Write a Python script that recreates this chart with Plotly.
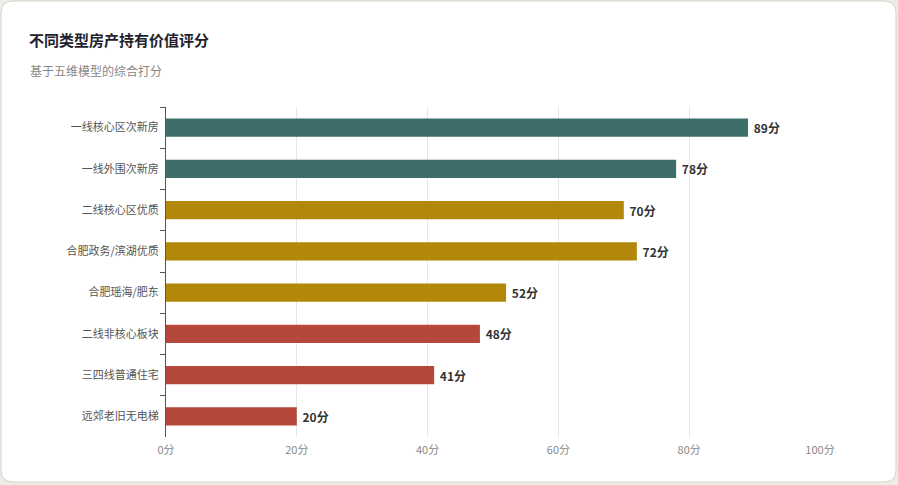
import plotly.graph_objects as go

categories = ["一线核心区次新房", "一线外围次新房", "二线核心区优质", "合肥政务/滨湖优质",
              "合肥瑶海/肥东", "二线非核心板块", "三四线普通住宅", "远郊老旧无电梯"]
scores = [89, 78, 70, 72, 52, 48, 41, 20]
bar_colors = ["#3e6e6a", "#3e6e6a", "#b3870a", "#b3870a", "#b3870a", "#b5483a", "#b5483a", "#b5483a"]
x_ticks = [0, 20, 40, 60, 80, 100]
x_tick_labels = [f"{v}分" for v in x_ticks]
value_labels = [f"<b> {v}分</b>" for v in scores]

W, H = 898, 485
L, R, T, B = 166, 820, 107, 437

def px_x(p):
    return (p - L) / (R - L)

def px_y(p):
    return (B - p) / (B - T)

fig = go.Figure()
fig.add_trace(go.Bar(
    y=categories, x=scores, orientation="h",
    marker=dict(color=bar_colors, line=dict(width=0)),
    text=value_labels, texttemplate="%{text}", textposition="outside",
    textfont=dict(size=12, color="#333333", family="Noto Sans CJK SC"),
    cliponaxis=False, hoverinfo="skip",
))

# rounded card
x0, x1, y0, y1, r = 1, 896, 1, 482, 12
pts = (f"M {px_x(x0+r)} {px_y(y0)} L {px_x(x1-r)} {px_y(y0)} "
       f"Q {px_x(x1)} {px_y(y0)} {px_x(x1)} {px_y(y0+r)} "
       f"L {px_x(x1)} {px_y(y1-r)} Q {px_x(x1)} {px_y(y1)} {px_x(x1-r)} {px_y(y1)} "
       f"L {px_x(x0+r)} {px_y(y1)} Q {px_x(x0)} {px_y(y1)} {px_x(x0)} {px_y(y1-r)} "
       f"L {px_x(x0)} {px_y(y0+r)} Q {px_x(x0)} {px_y(y0)} {px_x(x0+r)} {px_y(y0)} Z")
fig.add_shape(type="path", path=pts, xref="paper", yref="paper",
              fillcolor="#ffffff", line=dict(color="#d6d3ca", width=1), layer="below")

fig.add_annotation(text="<b>不同类型房产持有价值评分</b>", x=px_x(27), y=px_y(40),
                   xref="paper", yref="paper", xanchor="left", yanchor="middle",
                   showarrow=False, font=dict(size=15, color="#1f1f2e", family="Noto Sans CJK SC"))
fig.add_annotation(text="基于五维模型的综合打分", x=px_x(28), y=px_y(71),
                   xref="paper", yref="paper", xanchor="left", yanchor="middle",
                   showarrow=False, font=dict(size=12, color="#888888", family="Noto Sans CJK SC"))

fig.update_layout(
    width=W, height=H,
    margin=dict(l=L, r=W - R, t=T, b=H - B, pad=0),
    paper_bgcolor="#eeece6", plot_bgcolor="rgba(0,0,0,0)",
    bargap=0.56, showlegend=False,
    font=dict(family="Noto Sans CJK SC", size=11, color="#666666"),
    xaxis=dict(range=[0, 100], tickvals=x_ticks, ticktext=x_tick_labels,
               showgrid=True, gridcolor="#e6e6e6", gridwidth=1, zeroline=False,
               showline=False, ticks="", tickfont=dict(size=11, color="#888888"),
               ticklabelstandoff=5, fixedrange=True),
    yaxis=dict(autorange="reversed", type="category", showline=True, linecolor="#555555",
               linewidth=1, ticks="outside", tickson="boundaries", ticklen=5,
               tickcolor="#555555", tickfont=dict(size=11, color="#555555"),
               showgrid=False, ticklabelstandoff=4, fixedrange=True),
)

fig.write_html("out.html", config={"displayModeBar": False},
               post_script="document.body.style.margin='0';document.body.style.background='#eeece6';")
